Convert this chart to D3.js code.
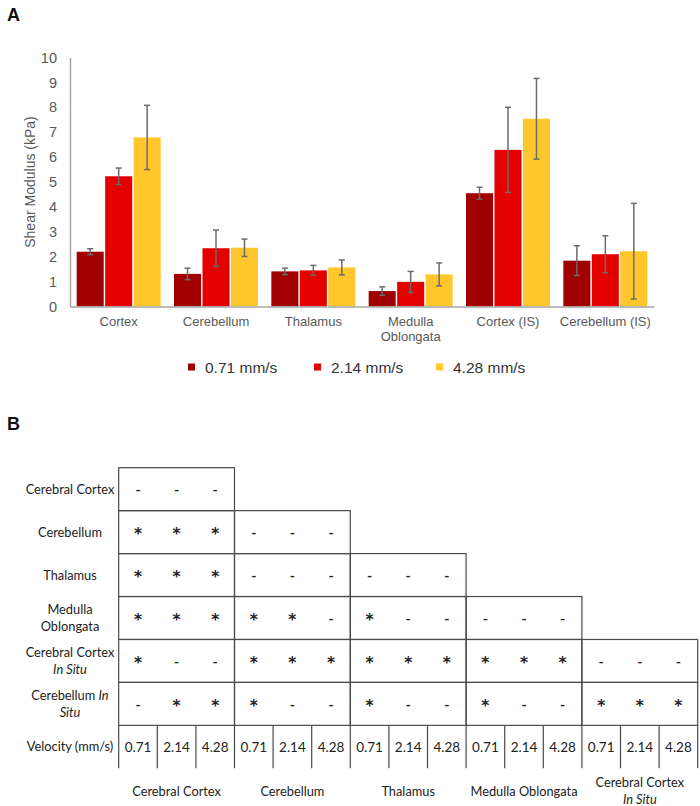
<!DOCTYPE html>
<html><head><meta charset="utf-8">
<script src="https://cdn.jsdelivr.net/npm/d3@7"></script>
<style>body{margin:0;background:#fff}svg{display:block}</style>
</head><body><svg id="c" width="700" height="806"></svg>
<script>
// ---- Data ----
const categories = ["Cortex","Cerebellum","Thalamus","Medulla Oblongata","Cortex (IS)","Cerebellum (IS)"];
const series = ["0.71 mm/s","2.14 mm/s","4.28 mm/s"];
const v071 = [2.2, 1.31, 1.41, 0.62, 4.55, 1.84];
const v214 = [5.23, 2.34, 1.45, 0.99, 6.29, 2.1];
const v428 = [6.79, 2.36, 1.57, 1.29, 7.54, 2.22];
const e071 = [0.12, 0.23, 0.13, 0.17, 0.24, 0.6];
const e214 = [0.33, 0.73, 0.2, 0.42, 1.71, 0.74];
const e428 = [1.29, 0.35, 0.3, 0.46, 1.62, 1.92];
const yTicks = [0,1,2,3,4,5,6,7,8,9,10];

const tableRows = ["Cerebral Cortex","Cerebellum","Thalamus","Medulla Oblongata","Cerebral Cortex In Situ","Cerebellum In Situ"];
const tableCols = ["Cerebral Cortex","Cerebellum","Thalamus","Medulla Oblongata","Cerebral Cortex In Situ"];
const velocities = ["0.71","2.14","4.28"];
const significance = [
  ["---"],
  ["***","---"],
  ["***","---","---"],
  ["***","**-","*--","---"],
  ["*--","***","***","***","---"],
  ["-**","*--","*--","*--","***"]
];

// ---- Chart A ----
const svg = d3.select("#c");
const colors = ["#A00000","#E50000","#FFC72C"];
const vals = [v071, v214, v428], errs = [e071, e214, e428];
const rows = categories.map((c,i)=>({c, v: vals.map(a=>a[i]), e: errs.map(a=>a[i])}));

const x0 = d3.scaleBand().domain(categories).range([70,654]).paddingInner(0.137).paddingOuter(0.0685);
const x1 = d3.scaleBand().domain(series).range([0,x0.bandwidth()]).paddingInner(0.05);
const y = d3.scaleLinear().domain([0,10]).range([306.5,57.5]);
const sans = "'Liberation Sans', Arial, sans-serif";

svg.append("text").attr("x",7).attr("y",21).text("A")
  .attr("font-family",sans).attr("font-weight","bold").attr("font-size",18).attr("fill","#111");

const yAxis = svg.append("g").attr("transform","translate(70,0)")
  .call(d3.axisLeft(y).tickValues(yTicks).tickSize(0).tickPadding(13));
yAxis.select(".domain").attr("stroke","#a6a6a6").attr("stroke-width",1.5);
yAxis.selectAll("text").attr("font-family",sans).attr("font-size",14.5).attr("fill","#595959");

svg.append("text").attr("transform","translate(35,182) rotate(-90)")
  .attr("text-anchor","middle").attr("font-family",sans).attr("font-size",14).attr("fill","#595959")
  .text("Shear Modulus (kPa)");

const g = svg.append("g").selectAll("g").data(rows).join("g")
  .attr("transform",d=>`translate(${x0(d.c)},0)`);
g.selectAll("rect").data(d=>d.v.map((v,k)=>({s:series[k],v,k}))).join("rect")
  .attr("x",d=>x1(d.s)).attr("width",x1.bandwidth())
  .attr("y",d=>y(d.v)).attr("height",d=>y(0)-y(d.v)).attr("fill",d=>colors[d.k]);
const eb = g.selectAll("g.eb").data(d=>d.v.map((v,k)=>({s:series[k],v,e:d.e[k]}))).join("g").attr("class","eb")
  .attr("stroke","#6b6b6b").attr("stroke-width",1.5);
eb.append("line").attr("x1",d=>x1(d.s)+x1.bandwidth()/2).attr("x2",d=>x1(d.s)+x1.bandwidth()/2)
  .attr("y1",d=>y(d.v+d.e)).attr("y2",d=>y(d.v-d.e));
eb.append("line").attr("x1",d=>x1(d.s)+x1.bandwidth()/2-3).attr("x2",d=>x1(d.s)+x1.bandwidth()/2+3)
  .attr("y1",d=>y(d.v+d.e)).attr("y2",d=>y(d.v+d.e));
eb.append("line").attr("x1",d=>x1(d.s)+x1.bandwidth()/2-3).attr("x2",d=>x1(d.s)+x1.bandwidth()/2+3)
  .attr("y1",d=>y(d.v-d.e)).attr("y2",d=>y(d.v-d.e));

const xAxis = svg.append("g").attr("transform",`translate(0,${y(0)})`)
  .call(d3.axisBottom(x0).tickSize(0).tickPadding(10));
xAxis.select(".domain").attr("stroke","#a6a6a6").attr("stroke-width",1.5);
xAxis.selectAll("text").attr("font-family",sans).attr("font-size",13).attr("fill","#595959")
  .each(function(d){
    if(d==="Medulla Oblongata"){
      const t=d3.select(this); t.text(null);
      t.append("tspan").attr("x",0).text("Medulla");
      t.append("tspan").attr("x",0).attr("dy","1.2em").text("Oblongata");
    }
  });

// legend
const legX = [188, 314, 436];
const leg = svg.append("g").selectAll("g").data(series).join("g")
  .attr("transform",(d,i)=>`translate(${legX[i]},367)`);
leg.append("rect").attr("x",0).attr("y",-3.5).attr("width",7).attr("height",7).attr("fill",(d,i)=>colors[i]);
leg.append("text").attr("x",17).attr("y",5.5).text(d=>d)
  .attr("font-family",sans).attr("font-size",15.5).attr("fill","#333");

// ---- Table B ----
const tf = "Lato, 'Open Sans', sans-serif";
svg.append("text").attr("x",7).attr("y",430).text("B")
  .attr("font-family",sans).attr("font-weight","bold").attr("font-size",18).attr("fill","#111");

const nCols = tableCols.length*velocities.length;
const cx = d3.scaleBand().domain(d3.range(nCols)).range([118.7,697.7]);
const ry = d3.scaleBand().domain(d3.range(tableRows.length+1)).range([467.7,768.3]);
const bw = cx.bandwidth()*velocities.length;
const lineCol = "#4a4a4a";
const tg = svg.append("g");

significance.forEach((row,i)=>{
  row.forEach((cell,b)=>{
    tg.append("rect").attr("x",cx(b*3)).attr("y",ry(i)).attr("width",bw).attr("height",ry.bandwidth())
      .attr("fill","none").attr("stroke",lineCol).attr("stroke-width",1.2);
    cell.split("").forEach((ch,k)=>{
      const star = ch==="*";
      tg.append("text").attr("x",cx(b*3+k)+cx.bandwidth()/2)
        .attr("y",ry(i)+ry.bandwidth()/2 + (star?7:6))
        .attr("text-anchor","middle")
        .attr("font-family",star?"'DejaVu Sans', sans-serif":tf).attr("font-weight","bold")
        .attr("font-size",star?15.5:14).attr("fill","#222").text(ch);
    });
  });
});
// velocity row
const vr = tableRows.length;
d3.range(nCols+1).forEach(c=>{
  const xx = c<nCols ? cx(c) : cx(nCols-1)+cx.bandwidth();
  tg.append("line").attr("x1",xx).attr("x2",xx).attr("y1",ry(vr)).attr("y2",ry(vr)+ry.bandwidth())
    .attr("stroke",lineCol).attr("stroke-width",1.2);
});
d3.range(nCols).forEach(c=>{
  tg.append("text").attr("x",cx(c)+cx.bandwidth()/2).attr("y",ry(vr)+ry.bandwidth()/2+5)
    .attr("text-anchor","middle").attr("font-family",tf).attr("font-size",13.5).attr("fill","#222")
    .text(velocities[c%3]);
});

// row labels
function label(sel, x, yc, lines){
  const n = lines.length, lh = 16.5;
  lines.forEach((parts,li)=>{
    const t = sel.append("text").attr("x",x).attr("y",yc + (li-(n-1)/2)*lh + 4.5)
      .attr("text-anchor","middle").attr("font-family",tf).attr("font-size",12.8).attr("fill","#222");
    parts.forEach(p=>t.append("tspan").attr("font-style",p[1]?"italic":"normal").text(p[0]));
  });
}
function splitLabel(s, forCols){
  if(s==="Medulla Oblongata") return forCols?[[[s,false]]]:[[["Medulla",false]],[["Oblongata",false]]];
  if(s==="Cerebral Cortex In Situ") return [[["Cerebral Cortex",false]],[["In Situ",true]]];
  if(s==="Cerebellum In Situ") return [[["Cerebellum ",false],["In",true]],[["Situ",true]]];
  return [[[s,false]]];
}
tableRows.forEach((r,i)=>label(tg,70,ry(i)+ry.bandwidth()/2,splitLabel(r,false)));
label(tg,70,ry(vr)+ry.bandwidth()/2,[[["Velocity (mm/s)",false]]]);
tableCols.forEach((c,b)=>{
  const lines = splitLabel(c,true);
  label(tg,cx(b*3)+bw/2, 791, lines);
});
</script></body></html>
